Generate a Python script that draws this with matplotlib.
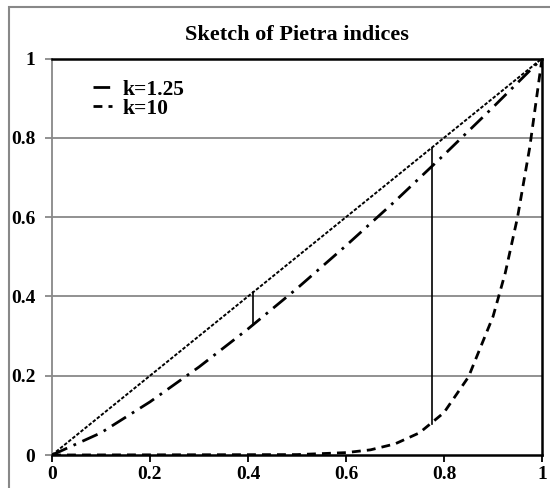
import matplotlib
matplotlib.use('Agg')
import matplotlib.pyplot as plt
from matplotlib.patches import Rectangle

plt.rcParams['font.family'] = ['Liberation Serif', 'DejaVu Serif']
plt.rcParams['font.weight'] = 'bold'

# значения
x_k125 = [0, 0.1, 0.2, 0.3, 0.4, 0.5, 0.6, 0.7, 0.8, 0.9, 1.0]
y_k125 = [0, 0.056, 0.134, 0.222, 0.318, 0.420, 0.528, 0.640, 0.757, 0.877, 1.0]

x_k10 = [0, 0.5, 0.6, 0.65, 0.7, 0.75, 0.8, 0.85, 0.9, 0.925, 0.95, 0.975, 1.0]
y_k10 = [0, 0.001, 0.006, 0.013, 0.028, 0.056, 0.107, 0.197, 0.349, 0.459, 0.599, 0.776, 1.0]

diag_x = [0, 1]
diag_y = [0, 1]

# вертикальные отрезки (индексы Пьетра)
gap_x = [0.41, 0.775]
gap_lo = [0.328, 0.078]
gap_hi = [0.41, 0.775]

ticks = [0, 0.2, 0.4, 0.6, 0.8, 1]
tick_labels = ['0', '0.2', '0.4', '0.6', '0.8', '1']

fig = plt.figure(figsize=(5.5, 4.88), dpi=100)
ax = fig.add_axes([52 / 550, 1 - 455 / 488, 490 / 550, 396.5 / 488])

# рамка вокруг всей картинки
fig.patches.append(Rectangle((9 / 550, -0.1), 1.2, 1 - 7 / 488 + 0.1, transform=fig.transFigure,
                             fill=False, edgecolor='#888888', linewidth=1.5))

for yv in [0.2, 0.4, 0.6, 0.8]:
    ax.axhline(yv, color='#888888', linewidth=1.3, zorder=1)

ax.plot(diag_x, diag_y, color='black', linewidth=1.4, linestyle=(0, (1.8, 0.9)), zorder=3)
ax.plot(x_k125, y_k125, color='black', linewidth=2.0, linestyle=(0, (6, 2.5, 1, 2.5)),
        label='k=1.25', zorder=3)
ax.plot(x_k10, y_k10, color='black', linewidth=2.0, linestyle=(0, (3.2, 2.2)),
        label='k=10', zorder=3)
for gx, lo, hi in zip(gap_x, gap_lo, gap_hi):
    ax.plot([gx, gx], [lo, hi], color='black', linewidth=1.2, zorder=3)

ax.set_xlim(0, 1)
ax.set_ylim(0, 1)
ax.set_xticks(ticks)
ax.set_xticklabels(tick_labels, fontsize=14, fontweight='bold')
ax.set_yticks(ticks)
ax.set_yticklabels(tick_labels, fontsize=14, fontweight='bold')
ax.tick_params(axis='y', length=5, width=1.3, color='#888888', pad=7)
ax.tick_params(axis='x', length=5, width=1.3, color='black', pad=3)

ax.spines['left'].set_color('#888888')
ax.spines['left'].set_linewidth(1.3)
for s in ['top', 'right', 'bottom']:
    ax.spines[s].set_color('black')
    ax.spines[s].set_linewidth(1.8)

ax.set_title('Sketch of Pietra indices', fontsize=16, fontweight='bold', pad=13)

ax.legend(loc='upper left', bbox_to_anchor=(0.045, 0.995), frameon=False, handlelength=0.85,
          handletextpad=0.5, labelspacing=-0.05, prop={'size': 15.5, 'weight': 'bold'})

fig.savefig('out.png', dpi=100)
